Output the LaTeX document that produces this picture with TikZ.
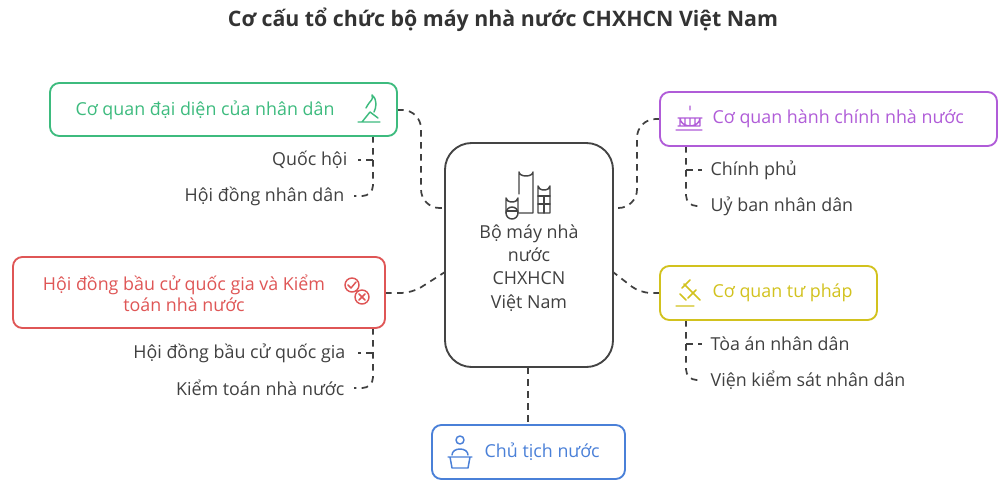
\documentclass[tikz,border=0pt]{standalone}
\usepackage{fontspec}
\setmainfont{Open Sans}
\begin{document}
\begin{tikzpicture}[x=0.75pt,y=-0.75pt,
  box/.style={draw=#1,line width=1.4pt,rounded corners=7pt,fill=white},
  lbl/.style={font=\fontsize{13.4}{16}\selectfont,text=#1},
  item/.style={font=\fontsize{13.4}{16}\selectfont,text=black!75},
  dsh/.style={draw=black!75,line width=1.3pt,dash pattern=on 5pt off 4pt,rounded corners=8pt},
  ico/.style={draw=#1,line width=1.1pt,line cap=round,line join=round}]
\useasboundingbox (0,0) rectangle (1006,500);
\definecolor{cg}{HTML}{3DBB7E}\definecolor{cp}{HTML}{B05CD8}
\definecolor{cr}{HTML}{DF5656}\definecolor{cy}{HTML}{D2C21E}
\definecolor{cb}{HTML}{4A80D8}\definecolor{cc}{HTML}{444444}
\node[font=\bfseries\fontsize{16}{19}\selectfont,text=black!80] (title) at (503,20) {Cơ cấu tổ chức bộ máy nhà nước CHXHCN Việt Nam};
% connectors first
\coordinate (gl) at (397,110); \coordinate (pl) at (660,119);
\coordinate (rl) at (385,293); \coordinate (yl) at (660,293);
\coordinate (cl1) at (445,208); \coordinate (cl2) at (445,272);
\coordinate (cr1) at (613,208); \coordinate (cr2) at (613,272);
\draw[dsh,rounded corners=14pt] (gl) -- (421,110) -- (421,208) -- (cl1);
\draw[dsh,rounded corners=14pt] (pl) -- (637,119) -- (637,208) -- (cr1);
\draw[dsh] (rl) -- (412,293) -- (cl2);
\draw[dsh] (yl) -- (640,293) -- (cr2);
\draw[dsh] (528,367) -- (528,425);
\draw[dsh] (373,136) -- (373,196) -- (354,196);
\draw[dsh] (373,160) -- (358,160);
\draw[dsh] (686,146) -- (686,206) -- (702,206);
\draw[dsh] (686,170) -- (702,170);
\draw[dsh] (373,328) -- (373,388) -- (354,388);
\draw[dsh] (373,353) -- (358,353);
\draw[dsh] (686,320) -- (686,380) -- (702,380);
\draw[dsh] (686,344) -- (702,344);
% center
\draw[box=cc,rounded corners=20pt] (445,143) rectangle (613,367);
\node (center) at (529,268) [align=center,lbl=black!75,font=\fontsize{13.4}{17.5}\selectfont] {Bộ máy nhà\\nước\\CHXHCN\\Việt Nam};
\begin{scope}[ico=cc]
\draw (506,213) -- (506,198) arc(180:0:6 and 4) -- (518,213);
\draw (519,194) -- (519,172) arc(180:0:7 and 4) -- (533,213) -- (519,213);
\draw (538,213) -- (538,186) arc(180:0:6 and 4) -- (550,213) -- (538,213);
\draw (538,196) -- (550,196) (538,204) -- (550,204) (544,196)--(544,213);
\draw (512,213) circle (6); \draw (507,211) -- (517,211);
\end{scope}
% boxes
\draw[box=cg] (50,83) rectangle (397,136);
\node[lbl=cg,anchor=west] (g) at (71,110) {Cơ quan đại diện của nhân dân};
\begin{scope}[ico=cg]
\draw (358,122) -- (380,122) (362,122) -- (370,112) -- (378,118) (366,108) .. controls (370,100) and (374,100) .. (372,95) .. controls (378,100) and (376,108) .. (374,112);
\end{scope}
\node[item,anchor=east] (g1) at (352,160) {Quốc hội};
\node[item,anchor=east] (g2) at (349,196) {Hội đồng nhân dân};
\draw[box=cp] (660,92) rectangle (997,146);
\node[lbl=cp,anchor=west] (p) at (708,119) {Cơ quan hành chính nhà nước};
\begin{scope}[ico=cp]
\draw (676,130) -- (702,130) (678,126) -- (700,126) (680,126) -- (680,118) (700,126) -- (700,118) (678,118) -- (702,118) (680,118) arc(180:0:10 and 8) (690,110)--(690,106) (685,118)--(685,126) (690,118)--(690,126) (695,118)--(695,126);
\end{scope}
\node[item,anchor=west] (p1) at (706,170) {Chính phủ};
\node[item,anchor=west] (p2) at (706,206) {Uỷ ban nhân dân};
\draw[box=cr] (13,257) rectangle (385,328);
\node[lbl=cr,align=center] (r) at (184,293) {Hội đồng bầu cử quốc gia và Kiểm\\toán nhà nước};
\begin{scope}[ico=cr]
\draw (352,285) circle (7) (362,297) circle (7);
\draw (348,285) -- (351,288) -- (356,282) (359,294) -- (365,300) (365,294) -- (359,300);
\end{scope}
\node[item,anchor=east] (r1) at (350,353) {Hội đồng bầu cử quốc gia};
\node[item,anchor=east] (r2) at (349,388) {Kiểm toán nhà nước};
\draw[box=cy] (660,266) rectangle (877,320);
\node[lbl=cy,anchor=west] (y) at (708,293) {Cơ quan tư pháp};
\begin{scope}[ico=cy]
\draw (676,306) -- (694,306) (686,300) -- (680,294) (684,284) -- (694,294) (682,288) -- (690,280) (688,298) -- (696,290) (692,292) -- (700,300);
\end{scope}
\node[item,anchor=west] (y1) at (706,344) {Tòa án nhân dân};
\node[item,anchor=west] (y2) at (706,380) {Viện kiểm sát nhân dân};
\draw[box=cb] (432,425) rectangle (625,479);
\node[lbl=cb,anchor=west] (b) at (480,452) {Chủ tịch nước};
\begin{scope}[ico=cb]
\draw (460,440) circle (4) (452,455) .. controls (452,447) and (468,447) .. (468,455) (448,457) -- (472,457) (450,457) -- (452,468) -- (468,468) -- (470,457);
\end{scope}
\end{tikzpicture}
\end{document}
